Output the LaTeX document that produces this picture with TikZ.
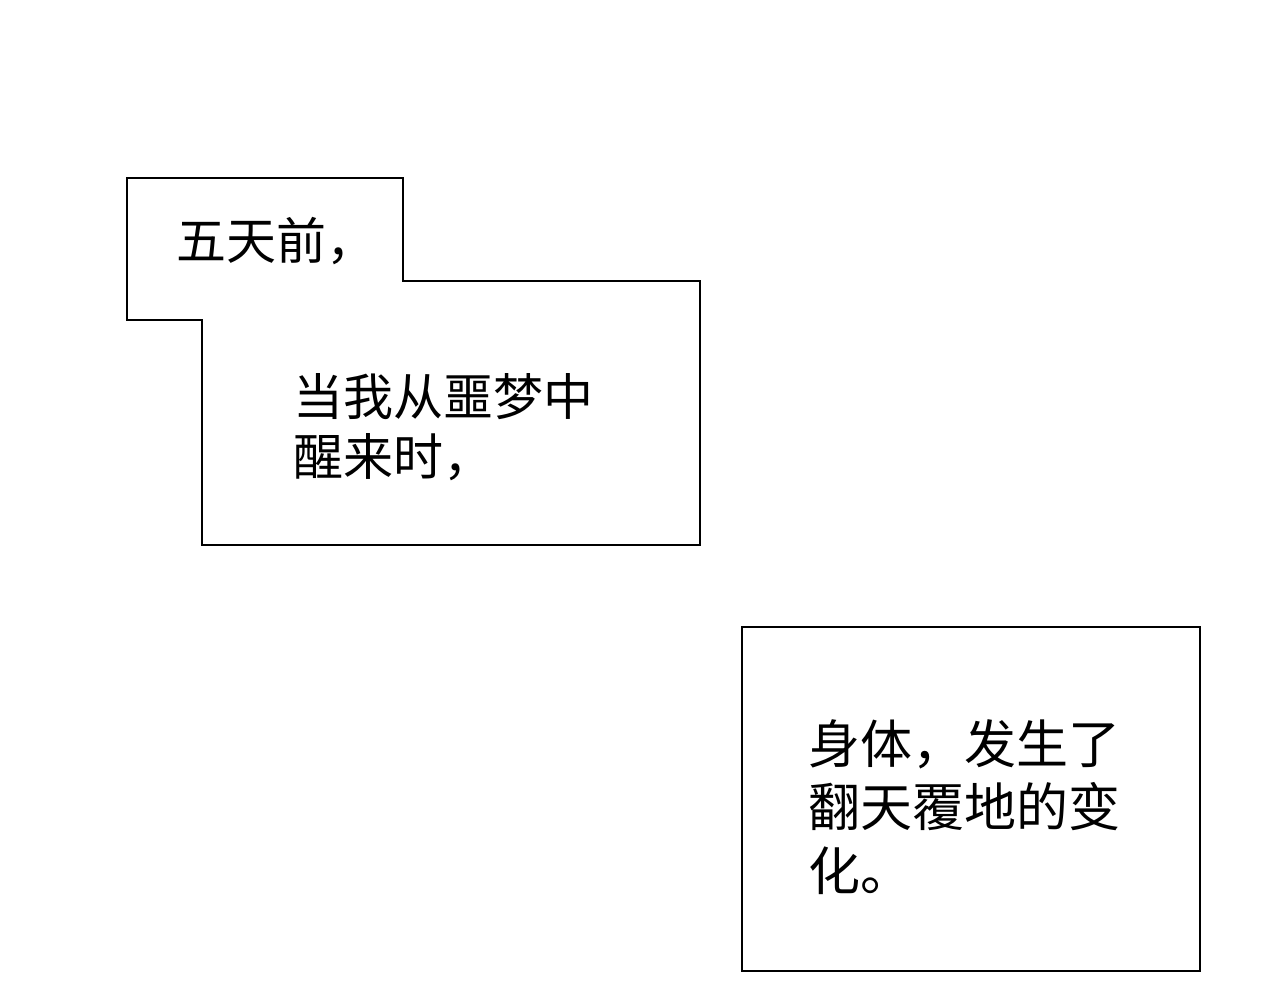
\documentclass[tikz,border=0pt]{standalone}
\usepackage{fontspec}
\newfontfamily\cjk{Noto Sans CJK SC}
\begin{document}
\begin{tikzpicture}[x=1pt,y=-1pt,
  panel/.style={draw=black,line width=2.6pt,fill=white,line join=miter},
  captxt/.style={inner sep=0pt,anchor=north west,align=left}]
\useasboundingbox (0,0) rectangle (1280,1000);
\fill[white] (0,0) rectangle (1280,1000);
\draw[panel] (127,178) -- (403,178) -- (403,281) -- (700,281) -- (700,545)
  -- (202,545) -- (202,320) -- (127,320) -- cycle;
\draw[panel] (742,627) rectangle (1200,971);
\node[captxt,font=\cjk\fontsize{50}{60}\selectfont] (t1) at (176,217) {五天前，};
\node[captxt,font=\cjk\fontsize{50}{60}\selectfont] (t2) at (293,373) {当我从噩梦中\\醒来时，};
\node[captxt,font=\cjk\fontsize{52}{63.5}\selectfont] (t3) at (808,719) {身体，发生了\\翻天覆地的变\\化。};
\end{tikzpicture}
\end{document}
